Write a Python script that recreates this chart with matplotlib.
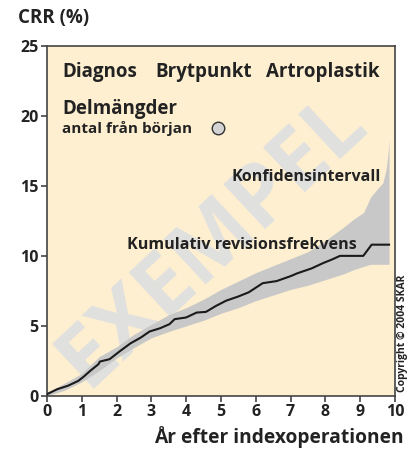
import matplotlib
matplotlib.use("Agg")
import matplotlib.pyplot as plt

# Kumulativ revisionsfrekvens (CRR, %) per år efter indexoperationen
years = [0, 0.3, 0.6, 0.9, 1.05, 1.25, 1.48, 1.52, 1.8, 2.1, 2.4, 2.7, 2.95,
         3.25, 3.52, 3.67, 4.0, 4.3, 4.57, 4.86, 5.15, 5.5, 5.8, 6.2, 6.6,
         7.0, 7.2, 7.6, 7.95, 8.2, 8.42, 8.8, 9.09, 9.18, 9.33, 9.83]
crr = [0.12, 0.48, 0.72, 1.07, 1.36, 1.8, 2.26, 2.45, 2.62, 3.2, 3.75, 4.17, 4.6,
       4.83, 5.12, 5.48, 5.6, 5.95, 6.0, 6.43, 6.8, 7.1, 7.4, 8.05, 8.2,
       8.55, 8.76, 9.1, 9.5, 9.75, 10.0, 10.0, 10.0, 10.3, 10.8, 10.8]

# Konfidensintervall
band_years = [0, 0.5, 1.0, 1.5, 2.0, 2.5, 3.0, 3.5, 4.0, 4.5, 5.0, 5.5, 6.0,
              6.5, 7.0, 7.5, 8.0, 8.5, 8.8, 9.1, 9.3, 9.5, 9.65, 9.75, 9.8, 9.83]
upper = [0.25, 0.9, 1.6, 2.8, 3.5, 4.4, 5.1, 5.8, 6.3, 6.9, 7.6, 8.2, 8.8,
         9.3, 9.8, 10.3, 11.1, 12.0, 12.6, 13.1, 14.2, 14.8, 15.2, 16.2, 17.3, 18.3]
lower = [0.0, 0.4, 1.0, 1.8, 2.7, 3.45, 4.15, 4.6, 5.0, 5.4, 5.9, 6.3, 6.8,
         7.2, 7.6, 7.9, 8.3, 8.7, 9.0, 9.25, 9.4, 9.4, 9.4, 9.4, 9.4, 9.4]

x_ticks = list(range(0, 11))
y_ticks = [0, 5, 10, 15, 20, 25]
header_words = ['Diagnos', 'Brytpunkt', 'Artroplastik']
header_x = [0.43, 3.12, 6.3]
marker_pos = (4.92, 19.1)

plt.rcParams['font.family'] = ['Open Sans', 'DejaVu Sans']
plt.rcParams['font.weight'] = 'bold'
txt = '#222222'
axcol = '#444444'

fig = plt.figure(figsize=(4.08, 4.54), dpi=100)
ax = fig.add_axes([0.115, 0.128, 0.853, 0.771])
ax.set_facecolor('#feefd0')

# vattenstämpel
ax.text(4.76, 11.1, 'EXEMPEL', fontsize=62, fontweight='bold', color='#e0e0e0',
        rotation=43, ha='center', va='center', zorder=1)

ax.fill_between(band_years, lower, upper, color='#c8c8c8', lw=0, zorder=2)
ax.plot(years, crr, color='#1a1a1a', lw=1.5, zorder=3)
ax.plot(*marker_pos, 'o', ms=9, mfc='#d4d4d4', mec='#333333', mew=1.0, zorder=4)

ax.set_xlim(0, 10)
ax.set_ylim(0, 25)
ax.set_xticks(x_ticks)
ax.set_yticks(y_ticks)
ax.tick_params(direction='out', length=4, width=1.2, colors=axcol,
               labelcolor=txt, labelsize=11.5, pad=2)
for lab in ax.get_xticklabels() + ax.get_yticklabels():
    lab.set_fontweight('bold')
for s in ax.spines.values():
    s.set_color(axcol)
    s.set_linewidth(1.2)

for word, xw in zip(header_words, header_x):
    ax.text(xw, 23.1, word, fontsize=13.5, color=txt, va='center', ha='left', zorder=5)
ax.text(0.43, 20.5, 'Delmängder', fontsize=13.5, color=txt, va='center', zorder=5)
ax.text(0.43, 19.1, 'antal från början', fontsize=11, color=txt, va='center', zorder=5)
ax.text(9.6, 15.6, 'Konfidensintervall', fontsize=11.6, color=txt,
        ha='right', va='center', zorder=5)
ax.text(2.3, 10.8, 'Kumulativ revisionsfrekvens', fontsize=11.6, color=txt,
        ha='left', va='center', zorder=5)

fig.text(18 / 408, 1 - 18 / 454, 'CRR (%)', fontsize=13.5, color=txt,
         ha='left', va='center')
fig.text(404 / 408, 1 - 437 / 454, 'År efter indexoperationen', fontsize=13.8,
         color=txt, ha='right', va='center')
fig.text(402 / 408, 1 - 392 / 454, 'Copyright © 2004 SKAR', fontsize=7.5,
         color=txt, rotation=90, ha='center', va='bottom')

fig.savefig('out.png', dpi=100)
